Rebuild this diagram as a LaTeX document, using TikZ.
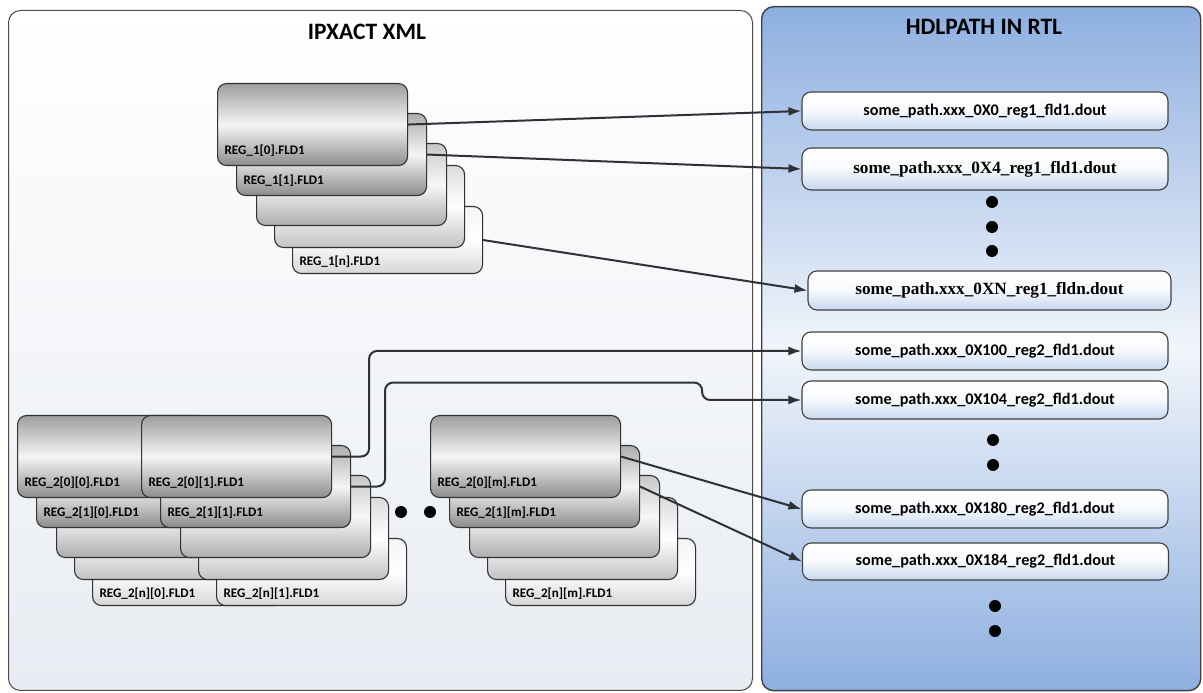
\documentclass[tikz,border=0pt]{standalone}
\usepackage{fontspec}
\setmainfont{Carlito}
\newfontfamily\pathserif{Liberation Serif}
\usepackage{xcolor}
\usepackage{tikz}
\usetikzlibrary{arrows.meta, positioning}

\definecolor{hdlblue}{HTML}{8DAFE0}
\definecolor{hdlpale}{HTML}{F1F5FB}
\definecolor{xmlgrey}{HTML}{E8ECF2}
\definecolor{pathblue}{HTML}{C6D7EE}
\definecolor{wiregrey}{HTML}{2E3136}

\tikzset{
  panel/.style={rectangle, rounded corners=12pt, draw=black!70, line width=1pt, anchor=north west},
  paneltitle/.style={font=\fontsize{23.5}{28}\selectfont\bfseries},
  pathbox/.style={rectangle, rounded corners=9pt, draw=black!75, line width=1.1pt,
    top color=white, bottom color=pathblue, middle color=white!85!pathblue,
    minimum width=366pt, minimum height=38pt, inner sep=0pt,
    font=\fontsize{16.2}{19}\selectfont\bfseries},
  serifbox/.style={pathbox, font=\fontsize{17.2}{20}\selectfont\pathserif\bfseries},
  regbox/.style={rectangle, rounded corners=9pt, draw=black!80, line width=1.1pt, anchor=north west,
    inner xsep=7pt, inner ysep=3pt, text width=176pt, align=left, text height=68pt, text depth=8pt,
    minimum height=82pt, font=\fontsize{13.1}{15}\selectfont\bfseries},
  regtail/.style={regbox, text height=56pt, text depth=5pt, minimum height=67pt},
  reg0/.style={top color=black!38, bottom color=black!45, middle color=black!4},
  reg1/.style={top color=black!32, bottom color=black!45, middle color=black!4},
  reg2/.style={top color=black!22, bottom color=black!32, middle color=black!3},
  reg3/.style={top color=black!14, bottom color=black!24, middle color=white},
  reg4/.style={top color=black!4, bottom color=black!16, middle color=white},
  dot/.style={circle, fill=black, inner sep=0pt, minimum size=12pt},
  wire/.style={draw=wiregrey, line width=2pt, -{Latex[length=13pt, width=9pt]}}
}

\begin{document}
\begin{tikzpicture}[x=1pt, y=1pt]
\useasboundingbox (0,0) rectangle (1203,693);

\node (xmlpanel) [panel, top color=white, bottom color=xmlgrey, minimum width=744pt, minimum height=680pt] at (8,683) {};
\node (rtlpanel) [panel, draw=black!75, line width=1.4pt, top color=hdlblue, bottom color=hdlblue, middle color=hdlpale, minimum width=439pt, minimum height=684pt] at (761,687) {};
\node (xmltitle) [paneltitle] at (367,661) {IPXACT XML};
\node (rtltitle) [paneltitle] at (984,666) {HDLPATH IN RTL};

\node (p0) [pathbox] at (985,582) {some\_path.xxx\_0X0\_reg1\_fld1.dout};
\node (p4) [serifbox, minimum height=42pt] at (985,524) {some\_path.xxx\_0X4\_reg1\_fld1.dout};
\node (pN) [serifbox, minimum width=363pt, minimum height=39pt] at (989.5,402.5) {some\_path.xxx\_0XN\_reg1\_fldn.dout};
\node (p100) [pathbox] at (985,342) {some\_path.xxx\_0X100\_reg2\_fld1.dout};
\node (p104) [pathbox] at (985,293) {some\_path.xxx\_0X104\_reg2\_fld1.dout};
\node (p180) [pathbox] at (985,184) {some\_path.xxx\_0X180\_reg2\_fld1.dout};
\node (p184) [pathbox, minimum height=37pt] at (985.5,131.5) {some\_path.xxx\_0X184\_reg2\_fld1.dout};

\node (d1) [dot] at (992,491) {};
\node (d2) [dot] at (992,466) {};
\node (d3) [dot] at (992,442) {};
\node (d4) [dot] at (993,253) {};
\node (d5) [dot] at (993,228) {};
\node (d6) [dot] at (995,87) {};
\node (d7) [dot] at (995,62) {};
\node (d8) [dot] at (401,181) {};
\node (d9) [dot] at (430,181) {};

\coordinate (s1) at (217,610);
\coordinate (c0) at (17,278);
\coordinate (c1) at (141,278);
\coordinate (cm) at (430,278);

\node (r14) [regtail, reg4] at ([shift={(75,-123)}]s1) {REG\_1[n].FLD1};
\node (r13) [regbox, reg3] at ([shift={(57,-82)}]s1) {};
\node (r12) [regbox, reg2] at ([shift={(39,-60)}]s1) {};
\node (r11) [regbox, reg1] at ([shift={(19,-30)}]s1) {REG\_1[1].FLD1};
\node (r10) [regbox, reg0] at (s1) {REG\_1[0].FLD1};

\node (a40) [regtail, reg4] at ([shift={(75,-123)}]c0) {REG\_2[n][0].FLD1};
\node (a30) [regbox, reg3] at ([shift={(57,-82)}]c0) {};
\node (a20) [regbox, reg2] at ([shift={(39,-60)}]c0) {};
\node (a10) [regbox, reg1] at ([shift={(19,-30)}]c0) {REG\_2[1][0].FLD1};
\node (a00) [regbox, reg0] at (c0) {REG\_2[0][0].FLD1};

\node (b41) [regtail, reg4] at ([shift={(75,-123)}]c1) {REG\_2[n][1].FLD1};
\node (b31) [regbox, reg3] at ([shift={(57,-82)}]c1) {};
\node (b21) [regbox, reg2] at ([shift={(39,-60)}]c1) {};
\node (b11) [regbox, reg1] at ([shift={(19,-30)}]c1) {REG\_2[1][1].FLD1};
\node (b01) [regbox, reg0] at (c1) {REG\_2[0][1].FLD1};

\node (m4) [regtail, reg4] at ([shift={(75,-123)}]cm) {REG\_2[n][m].FLD1};
\node (m3) [regbox, reg3] at ([shift={(57,-82)}]cm) {};
\node (m2) [regbox, reg2] at ([shift={(39,-60)}]cm) {};
\node (m1) [regbox, reg1] at ([shift={(19,-30)}]cm) {REG\_2[1][m].FLD1};
\node (m0) [regbox, reg0] at (cm) {REG\_2[0][m].FLD1};

\draw [wire] (r10.east) -- (p0.west);
\draw [wire] (r11.east) -- (p4.west);
\draw [wire] (r14.east) -- (pN.west);
\draw [wire, rounded corners=8pt] (b01.east) -- ++(37,0) |- (p100.west);
\draw [wire, rounded corners=8pt] (b11.east) -- ++(34,0) |- ++(317,104) |- (p104.west);
\draw [wire] (m0.east) -- (p180.west);
\draw [wire] (m1.east) -- (p184.west);
\end{tikzpicture}
\end{document}
